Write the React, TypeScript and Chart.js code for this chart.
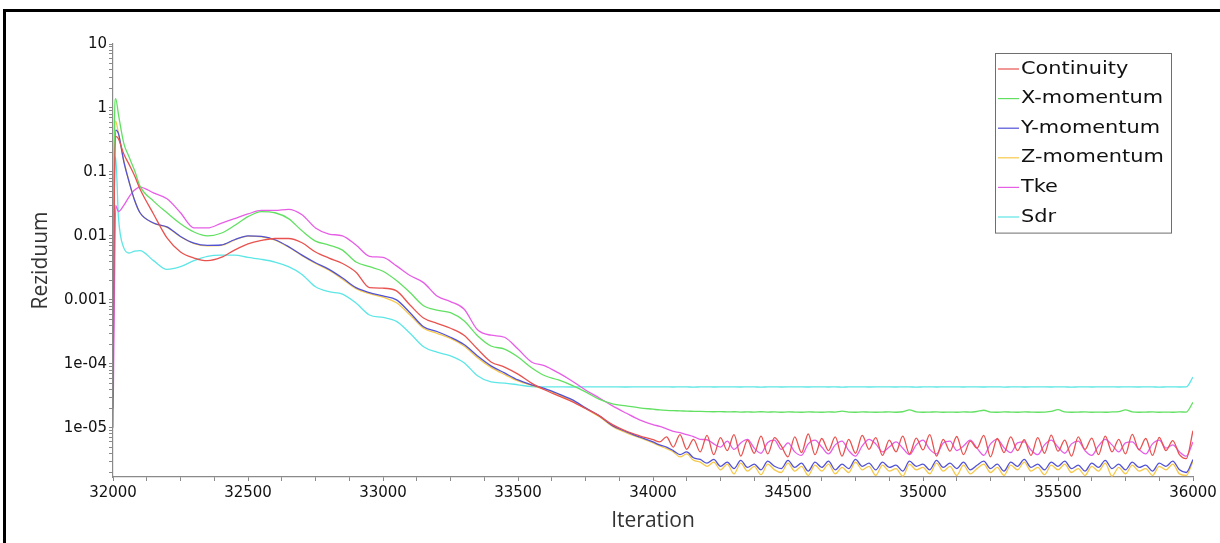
import { useEffect, useRef } from 'react';
import { Chart, registerables } from 'chart.js';

Chart.register(...registerables);

const ITERATIONS = [
  32000, 32005, 32010, 32020, 32040, 32060, 32080, 32100,
  32150, 32200, 32250, 32300, 32350, 32400, 32450, 32500,
  32550, 32600, 32650, 32700, 32750, 32800, 32850, 32900,
  32950, 33000, 33050, 33100, 33150, 33200, 33250, 33300,
  33350, 33400, 33450, 33500, 33550, 33600, 33650, 33700,
  33750, 33800, 33850, 33900, 33950, 34000,
  34025, 34050, 34075, 34100, 34125, 34150, 34175, 34200,
  34225, 34250, 34275, 34300, 34325, 34350, 34375, 34400,
  34425, 34450, 34475, 34500, 34525, 34550, 34575, 34600,
  34625, 34650, 34675, 34700, 34725, 34750, 34775, 34800,
  34825, 34850, 34875, 34900, 34925, 34950, 34975, 35000,
  35025, 35050, 35075, 35100, 35125, 35150, 35175, 35200,
  35225, 35250, 35275, 35300, 35325, 35350, 35375, 35400,
  35425, 35450, 35475, 35500, 35525, 35550, 35575, 35600,
  35625, 35650, 35675, 35700, 35725, 35750, 35775, 35800,
  35825, 35850, 35875, 35900, 35925, 35950, 35975, 36000,
];

const CONTINUITY = [
  2e-5, 0.05, 0.36, 0.33, 0.19, 0.13, 0.087, 0.054,
  0.022, 0.0093, 0.0056, 0.0045, 0.0041, 0.0046, 0.006, 0.0075,
  0.0085, 0.0091, 0.0091, 0.0078, 0.0056, 0.0045, 0.0037, 0.0027,
  0.00155, 0.00152, 0.00138, 0.00083, 0.00052, 0.00043, 0.00036, 0.00028,
  0.00017, 0.000107, 8.9e-5, 6.9e-5, 5.0e-5, 3.9e-5, 3.16e-5, 2.57e-5,
  2.0e-5, 1.55e-5, 1.12e-5, 8.9e-6, 7.5e-6, 6.5e-6,
  6.0e-6, 7.2e-6, 5.0e-6, 7.8e-6, 4.6e-6, 6.6e-6, 4.2e-6, 7.6e-6,
  3.8e-6, 7.0e-6, 4.4e-6, 7.8e-6, 3.6e-6, 6.4e-6, 4.0e-6, 7.4e-6,
  3.9e-6, 7.0e-6, 5.2e-6, 3.5e-6, 7.2e-6, 4.1e-6, 8.0e-6, 3.8e-6,
  6.8e-6, 4.4e-6, 7.2e-6, 3.6e-6, 6.6e-6, 4.0e-6, 7.6e-6, 4.6e-6,
  7.0e-6, 3.7e-6, 6.4e-6, 4.2e-6, 7.4e-6, 3.9e-6, 6.9e-6, 4.5e-6,
  7.8e-6, 3.6e-6, 6.6e-6, 4.3e-6, 7.3e-6, 3.8e-6, 6.2e-6, 4.8e-6,
  7.6e-6, 3.5e-6, 6.8e-6, 4.1e-6, 7.2e-6, 4.4e-6, 6.5e-6, 3.7e-6,
  7.0e-6, 4.0e-6, 7.7e-6, 4.3e-6, 6.4e-6, 3.6e-6, 7.2e-6, 4.6e-6,
  6.9e-6, 3.8e-6, 7.4e-6, 4.2e-6, 6.6e-6, 3.9e-6, 7.9e-6, 4.5e-6,
  6.8e-6, 3.7e-6, 7.1e-6, 4.4e-6, 6.3e-6, 3.8e-6, 3.3e-6, 9.0e-6,
];

const X_MOMENTUM = [
  0.002, 0.5, 1.4, 0.8, 0.28, 0.17, 0.105, 0.06,
  0.035, 0.023, 0.0155, 0.0115, 0.01, 0.011, 0.0145, 0.02,
  0.024, 0.023, 0.0186, 0.012, 0.0083, 0.0072, 0.006, 0.0039,
  0.0033, 0.0028, 0.002, 0.0013, 0.00081, 0.00069, 0.00063, 0.00047,
  0.000275, 0.00019, 0.00017, 0.000128, 8.7e-5, 6.5e-5, 5.6e-5, 4.6e-5,
  3.65e-5, 2.8e-5, 2.37e-5, 2.2e-5, 2.05e-5, 1.95e-5,
  1.9e-5, 1.87e-5, 1.85e-5, 1.84e-5, 1.82e-5, 1.81e-5, 1.8e-5, 1.79e-5,
  1.78e-5, 1.79e-5, 1.77e-5, 1.78e-5, 1.76e-5, 1.77e-5, 1.76e-5, 1.78e-5,
  1.76e-5, 1.77e-5, 1.75e-5, 1.77e-5, 1.76e-5, 1.75e-5, 1.77e-5, 1.76e-5,
  1.75e-5, 1.77e-5, 1.76e-5, 1.82e-5, 1.76e-5, 1.75e-5, 1.77e-5, 1.76e-5,
  1.75e-5, 1.76e-5, 1.77e-5, 1.75e-5, 1.78e-5, 1.9e-5, 1.77e-5, 1.75e-5,
  1.76e-5, 1.77e-5, 1.75e-5, 1.76e-5, 1.75e-5, 1.77e-5, 1.76e-5, 1.8e-5,
  1.88e-5, 1.76e-5, 1.75e-5, 1.77e-5, 1.76e-5, 1.75e-5, 1.77e-5, 1.76e-5,
  1.75e-5, 1.76e-5, 1.8e-5, 1.92e-5, 1.77e-5, 1.75e-5, 1.76e-5, 1.77e-5,
  1.75e-5, 1.76e-5, 1.75e-5, 1.77e-5, 1.79e-5, 1.9e-5, 1.77e-5, 1.75e-5,
  1.76e-5, 1.77e-5, 1.75e-5, 1.76e-5, 1.75e-5, 1.77e-5, 1.76e-5, 2.5e-5,
];

const Y_MOMENTUM = [
  3e-5, 0.06, 0.45, 0.4, 0.145, 0.069, 0.036, 0.023,
  0.0159, 0.0138, 0.0098, 0.0077, 0.0071, 0.0072, 0.0087, 0.01,
  0.0098, 0.0087, 0.0068, 0.005, 0.0038, 0.003, 0.0022, 0.00155,
  0.0013, 0.00115, 0.001, 0.00063, 0.00038, 0.00032, 0.00026, 0.0002,
  0.000133, 9.3e-5, 7.2e-5, 5.6e-5, 4.7e-5, 4.1e-5, 3.4e-5, 2.75e-5,
  2.05e-5, 1.55e-5, 1.08e-5, 8.7e-6, 7.2e-6, 6.0e-6,
  5.4e-6, 5.0e-6, 4.4e-6, 3.8e-6, 4.2e-6, 3.4e-6, 3.2e-6, 2.8e-6,
  3.2e-6, 2.5e-6, 2.9e-6, 2.3e-6, 3.1e-6, 2.4e-6, 2.7e-6, 2.2e-6,
  3.0e-6, 2.5e-6, 2.3e-6, 3.1e-6, 2.4e-6, 2.8e-6, 2.1e-6, 2.9e-6,
  2.4e-6, 3.0e-6, 2.2e-6, 2.7e-6, 2.3e-6, 3.2e-6, 2.5e-6, 2.8e-6,
  2.2e-6, 2.9e-6, 2.4e-6, 2.6e-6, 2.1e-6, 3.0e-6, 2.5e-6, 2.7e-6,
  2.2e-6, 3.1e-6, 2.4e-6, 2.8e-6, 2.3e-6, 2.9e-6, 2.2e-6, 2.6e-6,
  3.0e-6, 2.3e-6, 2.7e-6, 2.1e-6, 2.9e-6, 2.5e-6, 3.2e-6, 2.4e-6,
  2.7e-6, 2.2e-6, 2.9e-6, 2.5e-6, 3.0e-6, 2.3e-6, 2.6e-6, 2.1e-6,
  2.8e-6, 2.4e-6, 3.1e-6, 2.3e-6, 2.7e-6, 2.2e-6, 2.9e-6, 2.4e-6,
  2.6e-6, 2.1e-6, 2.8e-6, 2.5e-6, 3.0e-6, 2.2e-6, 2.0e-6, 3.2e-6,
];

const Z_MOMENTUM = [
  5e-5, 0.2, 0.62, 0.4, 0.15, 0.07, 0.036, 0.023,
  0.0158, 0.0136, 0.0097, 0.0076, 0.007, 0.0071, 0.0086, 0.0099,
  0.0097, 0.0086, 0.0067, 0.0049, 0.0037, 0.0029, 0.0021, 0.0015,
  0.00125, 0.0011, 0.0009, 0.00058, 0.00036, 0.0003, 0.00025, 0.00019,
  0.000125, 8.8e-5, 6.8e-5, 5.4e-5, 4.6e-5, 4.0e-5, 3.3e-5, 2.65e-5,
  2.0e-5, 1.5e-5, 1.05e-5, 8.4e-6, 7.0e-6, 5.8e-6,
  5.2e-6, 4.7e-6, 4.2e-6, 3.5e-6, 3.9e-6, 3.1e-6, 2.9e-6, 2.5e-6,
  2.9e-6, 2.2e-6, 2.7e-6, 1.9e-6, 2.8e-6, 2.1e-6, 2.5e-6, 1.85e-6,
  2.7e-6, 2.2e-6, 2.0e-6, 2.8e-6, 2.1e-6, 2.5e-6, 1.8e-6, 2.6e-6,
  2.1e-6, 2.7e-6, 1.9e-6, 2.4e-6, 2.0e-6, 2.9e-6, 2.2e-6, 2.5e-6,
  1.8e-6, 2.6e-6, 2.1e-6, 2.3e-6, 1.75e-6, 2.7e-6, 2.2e-6, 2.4e-6,
  1.9e-6, 2.8e-6, 2.1e-6, 2.5e-6, 1.8e-6, 2.6e-6, 1.9e-6, 2.3e-6,
  2.7e-6, 2.0e-6, 2.4e-6, 1.8e-6, 2.6e-6, 2.2e-6, 2.9e-6, 2.1e-6,
  2.4e-6, 1.85e-6, 2.6e-6, 2.2e-6, 2.7e-6, 2.0e-6, 2.3e-6, 1.8e-6,
  2.5e-6, 2.1e-6, 2.8e-6, 1.75e-6, 2.4e-6, 1.9e-6, 2.6e-6, 2.1e-6,
  2.3e-6, 1.8e-6, 2.5e-6, 2.2e-6, 2.7e-6, 1.9e-6, 1.8e-6, 3.0e-6,
];

const TKE = [
  1e-5, 0.001, 0.03, 0.024, 0.03, 0.041, 0.052, 0.058,
  0.047, 0.038, 0.023, 0.0133, 0.0133, 0.0157, 0.0186, 0.022,
  0.025, 0.025, 0.026, 0.0214, 0.0133, 0.0107, 0.01, 0.0072,
  0.0048, 0.0046, 0.0034, 0.0024, 0.00186, 0.00115, 0.00094, 0.00072,
  0.00034, 0.00028, 0.00026, 0.00017, 0.000107, 9.3e-5, 7.2e-5, 5.4e-5,
  3.9e-5, 2.95e-5, 2.2e-5, 1.7e-5, 1.33e-5, 1.12e-5,
  1.05e-5, 9.6e-6, 8.8e-6, 8.4e-6, 7.8e-6, 7.3e-6, 6.6e-6, 6.5e-6,
  5.6e-6, 5.0e-6, 6.2e-6, 4.6e-6, 5.8e-6, 6.6e-6, 4.8e-6, 4.0e-6,
  5.9e-6, 6.4e-6, 4.6e-6, 5.8e-6, 4.2e-6, 3.7e-6, 5.6e-6, 6.4e-6,
  5.0e-6, 3.9e-6, 5.4e-6, 6.2e-6, 4.4e-6, 3.6e-6, 5.2e-6, 6.6e-6,
  5.6e-6, 4.2e-6, 5.0e-6, 6.0e-6, 4.8e-6, 3.8e-6, 5.4e-6, 6.4e-6,
  4.6e-6, 3.9e-6, 5.8e-6, 6.2e-6, 4.4e-6, 5.2e-6, 6.4e-6, 4.8e-6,
  3.7e-6, 5.6e-6, 6.6e-6, 4.9e-6, 4.1e-6, 5.8e-6, 6.0e-6, 4.5e-6,
  3.8e-6, 5.4e-6, 6.4e-6, 5.0e-6, 4.0e-6, 5.6e-6, 6.2e-6, 4.4e-6,
  3.7e-6, 5.2e-6, 6.6e-6, 5.4e-6, 4.2e-6, 5.8e-6, 6.0e-6, 4.6e-6,
  3.9e-6, 5.6e-6, 6.4e-6, 4.8e-6, 5.4e-6, 4.2e-6, 3.6e-6, 6.0e-6,
];

const SDR = [
  5e-4, 0.05, 0.17, 0.02, 0.0065, 0.0054, 0.0058, 0.0059,
  0.0041, 0.003, 0.0033, 0.0041, 0.0048, 0.005, 0.005, 0.0046,
  0.0043, 0.0039, 0.0033, 0.0025, 0.0016, 0.00134, 0.00123, 0.00089,
  0.00058, 0.00053, 0.00046, 0.0003, 0.000185, 0.000152, 0.000133, 0.000104,
  6.5e-5, 5.2e-5, 5.0e-5, 4.7e-5, 4.4e-5, 4.36e-5, 4.35e-5, 4.34e-5,
  4.35e-5, 4.36e-5, 4.35e-5, 4.34e-5, 4.35e-5, 4.35e-5,
  4.36e-5, 4.35e-5, 4.34e-5, 4.36e-5, 4.35e-5, 4.33e-5, 4.35e-5, 4.36e-5,
  4.34e-5, 4.35e-5, 4.37e-5, 4.35e-5, 4.34e-5, 4.36e-5, 4.35e-5, 4.33e-5,
  4.35e-5, 4.36e-5, 4.34e-5, 4.35e-5, 4.37e-5, 4.35e-5, 4.34e-5, 4.35e-5,
  4.36e-5, 4.34e-5, 4.35e-5, 4.33e-5, 4.35e-5, 4.36e-5, 4.35e-5, 4.34e-5,
  4.35e-5, 4.37e-5, 4.35e-5, 4.34e-5, 4.36e-5, 4.35e-5, 4.33e-5, 4.35e-5,
  4.36e-5, 4.34e-5, 4.35e-5, 4.36e-5, 4.35e-5, 4.34e-5, 4.37e-5, 4.35e-5,
  4.34e-5, 4.35e-5, 4.36e-5, 4.33e-5, 4.35e-5, 4.36e-5, 4.34e-5, 4.35e-5,
  4.37e-5, 4.35e-5, 4.34e-5, 4.36e-5, 4.35e-5, 4.33e-5, 4.35e-5, 4.36e-5,
  4.34e-5, 4.35e-5, 4.36e-5, 4.35e-5, 4.34e-5, 4.37e-5, 4.35e-5, 4.34e-5,
  4.36e-5, 4.35e-5, 4.33e-5, 4.35e-5, 4.36e-5, 4.34e-5, 4.35e-5, 6.2e-5,
];

const SERIES_NAMES = ['Continuity', 'X-momentum', 'Y-momentum', 'Z-momentum', 'Tke', 'Sdr'];
const SERIES_VALUES = [CONTINUITY, X_MOMENTUM, Y_MOMENTUM, Z_MOMENTUM, TKE, SDR];
const SERIES_COLORS = ['#e8524f', '#62e062', '#5252d6', '#f7c94a', '#e65ee6', '#5ee6e6'];

const X_MIN = 32000;
const X_MAX = 36000;
const X_MINOR_STEP = 125;
const X_TICK_LABELS = [32000, 32500, 33000, 33500, 34000, 34500, 35000, 35500, 36000];

const Y_MIN = 1.7e-6;
const Y_MAX = 10;
const Y_DECADES = [1e-6, 1e-5, 1e-4, 1e-3, 1e-2, 0.1, 1, 10];
const Y_TICK_VALUES = [10, 1, 0.1, 0.01, 0.001, 1e-4, 1e-5];
const Y_TICK_LABELS = ['10', '1', '0.1', '0.01', '0.001', '1e-04', '1e-05'];

const TICK_FONT = { family: '"DejaVu Sans", sans-serif', size: 15 };
const TITLE_FONT = { family: '"Open Sans", sans-serif', size: 21 };

const boxLegend = {
  id: 'boxLegend',
  afterDraw(chart: any) {
    const { ctx, chartArea } = chart;
    const right = chartArea.right - 22;
    const left = right - 176;
    const top = chartArea.top + 9;
    const rowH = 29.6;
    const height = rowH * SERIES_NAMES.length + 2;
    ctx.save();
    ctx.fillStyle = '#ffffff';
    ctx.fillRect(left, top, right - left, height);
    ctx.strokeStyle = '#6e6e6e';
    ctx.lineWidth = 1;
    ctx.strokeRect(left + 0.5, top + 0.5, right - left, height);
    ctx.font = '18px "DejaVu Sans", sans-serif';
    ctx.textBaseline = 'middle';
    ctx.textAlign = 'left';
    SERIES_NAMES.forEach((name, i) => {
      const cy = top + 16 + i * rowH;
      ctx.strokeStyle = SERIES_COLORS[i];
      ctx.lineWidth = 1.2;
      ctx.beginPath();
      ctx.moveTo(left + 3, cy);
      ctx.lineTo(left + 24, cy);
      ctx.stroke();
      ctx.save();
      ctx.translate(left + 26, cy);
      ctx.scale(1.16, 1);
      ctx.fillStyle = '#111111';
      ctx.fillText(name, 0, 0);
      ctx.restore();
    });
    ctx.restore();
  },
};

export default function App() {
  const canvasRef = useRef<HTMLCanvasElement | null>(null);

  useEffect(() => {
    const canvas = canvasRef.current;
    if (!canvas) return;
    const chart = new Chart(canvas, {
      type: 'line',
      data: {
        datasets: SERIES_NAMES.map((name, i) => ({
          label: name,
          data: ITERATIONS.map((it, j) => ({ x: it, y: SERIES_VALUES[i][j] })),
          borderColor: SERIES_COLORS[i],
          backgroundColor: SERIES_COLORS[i],
          borderWidth: 1.3,
          pointRadius: 0,
          fill: false,
          cubicInterpolationMode: 'monotone' as const,
        })),
      },
      options: {
        animation: false,
        responsive: false,
        maintainAspectRatio: false,
        layout: { padding: { left: 0, right: 27, top: 44, bottom: 0 } },
        plugins: {
          legend: { display: false },
          tooltip: { enabled: false },
        },
        scales: {
          x: {
            type: 'linear',
            min: X_MIN,
            max: X_MAX,
            afterBuildTicks: (scale: any) => {
              const ticks = [];
              for (let v = X_MIN; v <= X_MAX; v += X_MINOR_STEP) ticks.push({ value: v });
              scale.ticks = ticks;
            },
            afterFit: (scale: any) => {
              scale.height = 66;
            },
            ticks: {
              autoSkip: false,
              maxRotation: 0,
              minRotation: 0,
              padding: 3,
              color: '#111',
              font: TICK_FONT,
              callback: (v: any) => (X_TICK_LABELS.includes(Number(v)) ? String(v) : ''),
            },
            grid: { drawOnChartArea: false, drawTicks: true, tickLength: 4, color: '#8a8a8a' },
            border: { display: true, color: '#8a8a8a', width: 1.2 },
            title: {
              display: true,
              text: 'Iteration',
              color: '#333',
              font: TITLE_FONT,
              padding: { top: 0, bottom: 9 },
            },
          },
          y: {
            type: 'logarithmic',
            min: Y_MIN,
            max: Y_MAX,
            afterBuildTicks: (scale: any) => {
              const ticks: { value: number }[] = [];
              for (const d of Y_DECADES) {
                for (let k = 1; k <= 9; k++) {
                  const v = d * k;
                  if (v >= Y_MIN && v <= Y_MAX * 1.0000001) ticks.push({ value: v });
                }
              }
              scale.ticks = ticks;
            },
            afterFit: (scale: any) => {
              scale.width = 113;
            },
            ticks: {
              autoSkip: false,
              padding: 2,
              color: '#111',
              font: TICK_FONT,
              callback: (v: any) => {
                const n = Number(v);
                const idx = Y_TICK_VALUES.findIndex((t) => Math.abs(n - t) / t < 1e-6);
                return idx >= 0 ? Y_TICK_LABELS[idx] : '';
              },
            },
            grid: { drawOnChartArea: false, drawTicks: true, tickLength: 4, color: '#8a8a8a' },
            border: { display: true, color: '#8a8a8a', width: 1.2 },
            title: {
              display: true,
              text: 'Reziduum',
              color: '#333',
              font: TITLE_FONT,
              padding: { top: 28, bottom: 0 },
            },
          },
        },
      },
      plugins: [boxLegend],
    });
    return () => chart.destroy();
  }, []);

  return (
    <div
      style={{
        position: 'fixed',
        left: 0,
        top: 0,
        width: 1220,
        height: 543,
        background: '#ffffff',
        overflow: 'hidden',
      }}
    >
      <div
        style={{
          position: 'absolute',
          left: 3,
          top: 9,
          width: 1400,
          height: 800,
          border: '3px solid #000',
          boxSizing: 'border-box',
        }}
      />
      <canvas
        ref={canvasRef}
        width={1220}
        height={543}
        style={{ position: 'absolute', left: 0, top: 0, width: 1220, height: 543 }}
      />
    </div>
  );
}
